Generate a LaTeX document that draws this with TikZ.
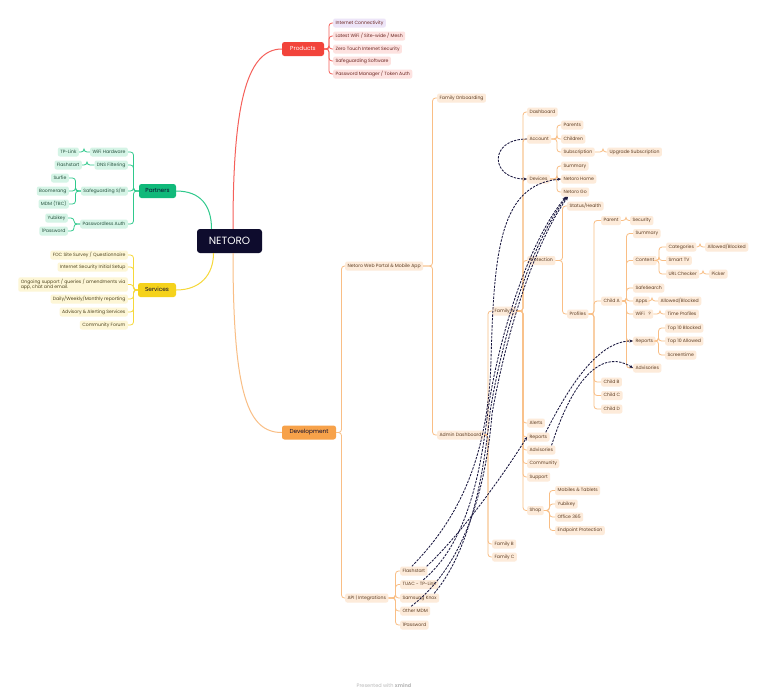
\documentclass[tikz,border=0pt]{standalone}
\usepackage{fontspec}
\setmainfont{Poppins}
\usetikzlibrary{arrows.meta}
\definecolor{navy}{HTML}{0E0C2D}
\definecolor{relc}{HTML}{1A1840}
\definecolor{redB}{HTML}{F2443B}
\definecolor{redL}{HTML}{F5605A}
\definecolor{redF}{HTML}{FDE2E0}
\definecolor{redT}{HTML}{6A2420}
\definecolor{lav}{HTML}{EDE5F8}
\definecolor{grnB}{HTML}{10B97A}
\definecolor{grnL}{HTML}{2FC98C}
\definecolor{grnF}{HTML}{D5F4E6}
\definecolor{grnT}{HTML}{24503C}
\definecolor{ylwB}{HTML}{F5D21C}
\definecolor{ylwL}{HTML}{F6D83A}
\definecolor{ylwF}{HTML}{FDF6D6}
\definecolor{ylwT}{HTML}{4E4420}
\definecolor{orgB}{HTML}{F7A24A}
\definecolor{orgL}{HTML}{F9BE85}
\definecolor{orgF}{HTML}{FDEBDA}
\definecolor{orgT}{HTML}{5C3C22}
\tikzset{
  lbl0/.style={rounded corners=2pt, inner xsep=2.4pt, inner ysep=1.6pt, minimum height=9pt, font=\fontsize{4.6}{5.6}\selectfont},
  lbl/.style={lbl0, text height=3.4pt, text depth=1.1pt},
  oc/.style={lbl, fill=orgF, text=orgT, anchor=west},
  rc/.style={lbl, fill=redF, text=redT, anchor=west},
  gc/.style={lbl, fill=grnF, text=grnT, anchor=east},
  yc/.style={lbl, fill=ylwF, text=ylwT, anchor=east},
  mainnode/.style={rounded corners=2.5pt, minimum height=14pt, inner xsep=3pt, font=\fontsize{5.8}{7}\selectfont, text height=4.2pt, text depth=1.3pt},
  oline/.style={draw=orgL, line width=0.8pt, rounded corners=3pt},
  rline/.style={draw=redL, line width=0.8pt, rounded corners=3pt},
  gline/.style={draw=grnL, line width=0.8pt, rounded corners=3pt},
  yline/.style={draw=ylwL, line width=0.8pt, rounded corners=3pt},
  rel/.style={draw=relc, line width=0.85pt, dash pattern=on 2.4pt off 1.2pt, -{Stealth[length=3.6pt,width=3pt]}},
}
\newcommand\brR[4]{\foreach \chld in {#4}{\draw[#3] (#1.east) -- (#1.east -| #2,0) |- (\chld.west);}}
\newcommand\brL[4]{\foreach \chld in {#4}{\draw[#3] (#1.west) -- (#1.west -| #2,0) |- (\chld.east);}}
\begin{document}
\begin{tikzpicture}[x=1pt,y=-1pt]
\useasboundingbox (0,0) rectangle (768,697);
\fill[white] (0,0) rectangle (768,697);

% ---------- central ----------
\node[fill=navy, text=white, rounded corners=3pt, minimum width=65pt, minimum height=24pt, font=\fontsize{10.5}{12}\selectfont] (net) at (229.5,241) {NETORO};

% ---------- Products ----------
\node[mainnode, fill=redB, text=white, minimum width=42pt] (prod) at (303,49) {Products};
\node[rc, fill=lav] (p1) at (333,23) {Internet Connectivity};
\node[rc] (p2) at (333,36) {Latest WiFi / Site-wide / Mesh};
\node[rc] (p3) at (333,49) {Zero Touch Internet Security};
\node[rc] (p4) at (333,61) {Safeguarding Software};
\node[rc] (p5) at (333,74) {Password Manager / Token Auth};
\brR{prod}{329}{rline}{p1,p2,p3,p4,p5}

% ---------- Partners ----------
\node[mainnode, fill=grnB, text=navy, minimum width=37pt] (part) at (157.5,191) {Partners};
\node[gc] (w1) at (128,152) {WiFi Hardware};
\node[gc] (w2) at (128,165) {DNS Filtering};
\node[gc] (w3) at (128,191) {Safeguarding S/W};
\node[gc] (w4) at (128,224) {Passwordless Auth};
\brL{part}{133.5}{gline}{w1,w2,w3,w4}
\node[gc] (g11) at (79,152) {TP-Link};
\node[gc] (g21) at (82,165) {Flashstart};
\node[gc] (g31) at (69,178) {Surfie};
\node[gc] (g32) at (69,191) {Boomerang};
\node[gc] (g33) at (69,204) {MDM (TBC)};
\node[gc] (g41) at (68,218) {Yubikey};
\node[gc] (g42) at (68,231) {1Password};
\brL{w1}{84}{gline}{g11}
\brL{w2}{87}{gline}{g21}
\brL{w3}{75.5}{gline}{g31,g32,g33}
\brL{w4}{74}{gline}{g41,g42}

% ---------- Services ----------
\node[mainnode, fill=ylwB, text=navy, minimum width=38pt] (serv) at (157,290) {Services};
\node[yc] (s1) at (128,255) {FOC Site Survey / Questionnaire};
\node[yc] (s2) at (128,267) {Internet Security Initial Setup};
\node[lbl0, fill=ylwF, text=ylwT, anchor=east, align=left] (s3) at (128,284.5) {Ongoing support / queries / amendments via\\app, chat and email.};
\node[yc] (s4) at (128,299) {Daily/Weekly/Monthly reporting};
\node[yc] (s5) at (128,312) {Advisory \& Alerting Services};
\node[yc] (s6) at (128,325) {Community Forum};
\brL{serv}{133.5}{yline}{s1,s2,s3,s4,s5,s6}

% ---------- Development ----------
\node[mainnode, fill=orgB, text=navy, minimum width=54pt] (dev) at (309,432.5) {Development};
\node[oc] (d1) at (345,266) {Netoro Web Portal \& Mobile App};
\node[oc] (d2) at (345,598) {API | Integrations};
\brR{dev}{341.5}{oline}{d1,d2}
\node[oc] (wp1) at (437,98) {Family Onboarding};
\node[oc] (wp2) at (437,435) {Admin Dashboard};
\brR{d1}{432.5}{oline}{wp1,wp2}
\node[oc] (fa) at (492,311) {Family A};
\node[oc] (fb) at (492,544) {Family B};
\node[oc] (fc) at (492,557) {Family C};
\brR{wp2}{488}{oline}{fa,fb,fc}

\node[oc] (a1) at (527,112) {Dashboard};
\node[oc] (a2) at (527,139) {Account};
\node[oc] (a3) at (527,179) {Devices};
\node[oc] (a4) at (527,260.5) {Protection};
\node[oc] (a5) at (527,423) {Alerts};
\node[oc] (a6) at (527,437) {Reports};
\node[oc] (a7) at (527,450) {Advisories};
\node[oc] (a8) at (527,463.5) {Community};
\node[oc] (a9) at (527,477) {Support};
\node[oc] (a10) at (527,510.5) {Shop};
\brR{fa}{523}{oline}{a1,a2,a3,a4,a5,a6,a7,a8,a9,a10}

\node[oc] (ac1) at (561,125) {Parents};
\node[oc] (ac2) at (561,139) {Children};
\node[oc] (ac3) at (561,152) {Subscription};
\brR{a2}{557}{oline}{ac1,ac2,ac3}
\node[oc] (ac31) at (607,152) {Upgrade Subscription};
\brR{ac3}{603}{oline}{ac31}

\node[oc] (dv1) at (561,166) {Summary};
\node[oc] (dv2) at (561,179) {Netoro Home};
\node[oc] (dv3) at (561,192) {Netoro Go};
\brR{a3}{557}{oline}{dv1,dv2,dv3}

\node[oc] (pr1) at (567,206) {Status/Health};
\node[oc] (pr2) at (567,314) {Profiles};
\brR{a4}{562.5}{oline}{pr1,pr2}

\node[oc] (pf1) at (601,220.5) {Parent};
\node[oc] (pf2) at (601,301) {Child A};
\node[oc] (pf3) at (601,382) {Child B};
\node[oc] (pf4) at (601,395.5) {Child C};
\node[oc] (pf5) at (601,409) {Child D};
\brR{pr2}{594}{oline}{pf1,pf2,pf3,pf4,pf5}
\node[oc] (pf11) at (630,220.5) {Security};
\brR{pf1}{626}{oline}{pf11}

\node[oc] (ca1) at (633,233.5) {Summary};
\node[oc] (ca2) at (633,260.5) {Content};
\node[oc] (ca3) at (633,288) {SafeSearch};
\node[oc] (ca4) at (633,301) {Apps};
\node[oc] (ca5) at (633,314) {WiFi~~~?};
\node[oc] (ca6) at (633,341) {Reports};
\node[oc] (ca7) at (633,368) {Advisories};
\brR{pf2}{626.5}{oline}{ca1,ca2,ca3,ca4,ca5,ca6,ca7}

\node[oc] (ct1) at (666,247) {Categories};
\node[oc] (ct2) at (666,260.5) {Smart TV};
\node[oc] (ct3) at (666,274) {URL Checker};
\brR{ca2}{659}{oline}{ct1,ct2,ct3}
\node[oc] (ct11) at (705,247) {Allowed/Blocked};
\brR{ct1}{700}{oline}{ct11}
\node[oc] (ct31) at (709,274) {Picker};
\brR{ct3}{703}{oline}{ct31}
\node[oc] (ca41) at (658,301) {Allowed/Blocked};
\brR{ca4}{652}{oline}{ca41}
\node[oc] (ca51) at (665,314) {Time Profiles};
\brR{ca5}{660}{oline}{ca51}

\node[oc] (rp1) at (665,328) {Top 10 Blocked};
\node[oc] (rp2) at (665,341) {Top 10 Allowed};
\node[oc] (rp3) at (665,355) {Screentime};
\brR{ca6}{658.5}{oline}{rp1,rp2,rp3}

\node[oc] (sh1) at (555,490.5) {Mobiles \& Tablets};
\node[oc] (sh2) at (555,504) {Yubikey};
\node[oc] (sh3) at (555,517) {Office 365};
\node[oc] (sh4) at (555,530.5) {Endpoint Protection};
\brR{a10}{549.5}{oline}{sh1,sh2,sh3,sh4}

\node[oc] (api1) at (400,571) {Flashstart};
\node[oc] (api2) at (400,584.5) {TUAC - TP-Link};
\node[oc] (api3) at (400,598) {Samsung Knox};
\node[oc] (api4) at (400,611) {Other MDM};
\node[oc] (api5) at (400,625) {1Password};
\brR{d2}{395.5}{oline}{api1,api2,api3,api4,api5}

% ---------- main branches ----------
\draw[redL, line width=1pt] ([xshift=3.5pt]net.north) .. controls (233,110) and (245,49) .. (prod.west);
\draw[grnL, line width=1pt] (part.east) .. controls (200,191) and (211.5,205) .. ([xshift=-18pt]net.north);
\draw[ylwL, line width=1pt] ([xshift=-16pt]net.south) .. controls (213.5,275) and (200,290) .. (serv.east);
\draw[orgL, line width=1pt] ([xshift=3.5pt]net.south) .. controls (233,395) and (248,432.5) .. (dev.west);

% ---------- relationships ----------
\coordinate (m1) at (491,360);
\coordinate (m2) at (488,410);
\coordinate (m3) at (490,412);
\coordinate (m4) at (492,414);
\draw[rel] (a2.west) .. controls (488,139) and (490,179) .. (a3.west);
\draw[rel] ([xshift=-2pt]api1.north) .. controls (450,527) and (488,470) .. (m1) .. controls (494,250) and (500,185) .. (dv2.west);
\draw[rel] ([xshift=-1pt]api1.north east) .. controls (460,535) and (500,480) .. (a6.west);
\draw[rel] ([xshift=4pt]api2.north) .. controls (465,545) and (480,480) .. (m2) .. controls (500,330) and (530,240) .. ([xshift=5pt]dv3.south west);
\draw[rel] ([xshift=-5pt]api3.north east) .. controls (468,553) and (483,484) .. (m3) .. controls (503,332) and (532,242) .. ([xshift=6pt]dv3.south west);
\draw[rel] ([xshift=-4pt]api4.north) .. controls (465,565) and (486,488) .. (m4) .. controls (506,334) and (534,244) .. ([xshift=7pt]dv3.south west);
\draw[rel] ([xshift=-4pt]a6.north east) .. controls (565,395) and (595,341) .. (ca6.west);
\draw[rel] ([xshift=-4pt]a7.north east) .. controls (575,372) and (605,350) .. (ca7.west);

% ---------- footer ----------
\node[font=\fontsize{5}{6}\selectfont, text=black!28] (foot) at (384,686) {Presented with \textbf{xmind}};
\end{tikzpicture}
\end{document}
